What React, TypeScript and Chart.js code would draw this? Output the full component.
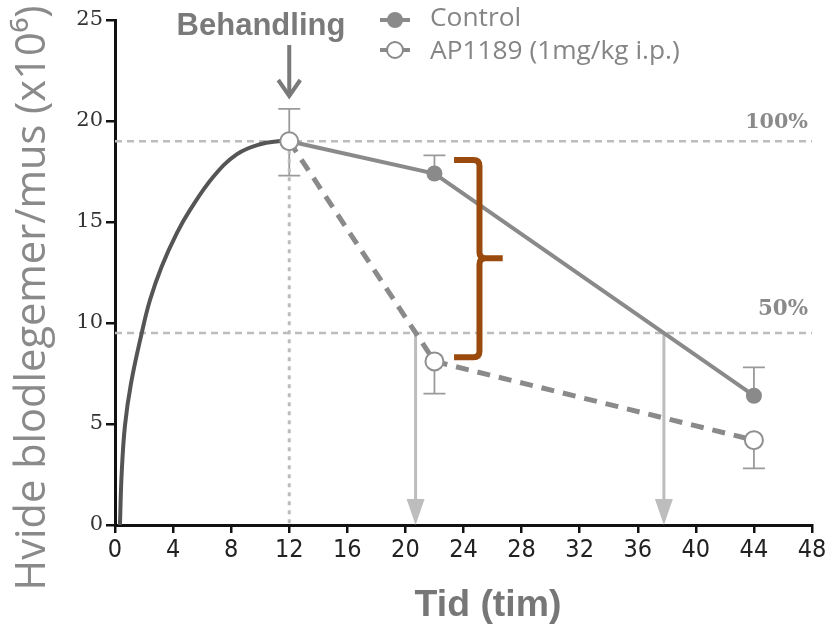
import React, { useEffect, useRef } from "react";
import { Chart, registerables } from "chart.js";
Chart.register(...registerables);

// ---- data ----
const timePoints = [12, 22, 44];
const controlMean = [19, 17.4, 6.4];
const controlErr = [1.6, 0.9, 1.4]; // drawn upward
const apMean = [19, 8.1, 4.2];
const apErr = [1.7, 1.6, 1.4]; // drawn downward
const riseT = [0.34, 0.46, 0.69, 1.1, 1.84, 2.41, 3.21, 4.25, 5.17, 6.77, 8.38, 9.99, 11.5];
const riseY = [0, 2.56, 4.95, 7.0, 9.5, 11.14, 12.79, 14.44, 15.6, 17.24, 18.35, 18.85, 19.02];
const fullLevel = 19; // 100%
const halfLevel = 9.5; // 50%
const treatmentTime = 12;
const apHalfTime = 20.7;
const controlHalfTime = 37.8;
const seriesLabels = ["Control", "AP1189 (1mg/kg i.p.)"];
const levelLabels = ["100%", "50%"];
const yTitle = "Hvide blodlegemer/mus (x10\u2076)";
const xTitle = "Tid (tim)";
const treatmentLabel = "Behandling";

function fitFont(ctx: CanvasRenderingContext2D, text: string, weight: string, family: string, target: number, base: number) {
  ctx.font = `${weight} ${base}px ${family}`;
  const w = ctx.measureText(text).width;
  const size = (base * target) / w;
  return `${weight} ${size.toFixed(1)}px ${family}`;
}

const SANS = "'Open Sans', 'Noto Sans', sans-serif";
const BOLD_SANS = "'Liberation Sans', Arial, sans-serif";

const overlay = {
  id: "overlay",
  beforeDatasetsDraw(chart: any) {
    const { ctx, scales } = chart;
    const x = scales.x, y = scales.y;
    ctx.save();
    ctx.strokeStyle = "#9a9a9a";
    ctx.lineWidth = 1.8;
    const cap = 11;
    const bar = (t: number, v0: number, v1: number) => {
      const px = x.getPixelForValue(t);
      const p0 = y.getPixelForValue(v0), p1 = y.getPixelForValue(v1);
      ctx.beginPath();
      ctx.moveTo(px, p0); ctx.lineTo(px, p1);
      ctx.moveTo(px - cap, p1); ctx.lineTo(px + cap, p1);
      ctx.stroke();
    };
    timePoints.forEach((t, i) => {
      bar(t, controlMean[i], controlMean[i] + controlErr[i]);
      bar(t, apMean[i], apMean[i] - apErr[i]);
    });
    // arrowheads of half-time arrows
    ctx.fillStyle = "#bdbdbd";
    [apHalfTime, controlHalfTime].forEach((t) => {
      const px = x.getPixelForValue(t);
      const py = y.getPixelForValue(0);
      ctx.beginPath();
      ctx.moveTo(px, py);
      ctx.lineTo(px - 9, py - 26);
      ctx.lineTo(px + 9, py - 26);
      ctx.closePath();
      ctx.fill();
    });
    ctx.restore();
  },
  afterDraw(chart: any) {
    const { ctx, scales } = chart;
    const x = scales.x, y = scales.y;
    ctx.save();

    // brace
    const bx0 = x.getPixelForValue(23.35), bx1 = x.getPixelForValue(25.1), bx2 = x.getPixelForValue(26.7);
    const byT = y.getPixelForValue(18.07), byB = y.getPixelForValue(8.3), byM = y.getPixelForValue(13.2);
    ctx.strokeStyle = "#9a4a0c";
    ctx.lineWidth = 6;
    ctx.lineCap = "butt";
    ctx.lineJoin = "round";
    const r = 6;
    ctx.beginPath();
    ctx.moveTo(bx0, byT);
    ctx.lineTo(bx1 - r, byT);
    ctx.quadraticCurveTo(bx1, byT, bx1, byT + r);
    ctx.lineTo(bx1, byM - r);
    ctx.quadraticCurveTo(bx1, byM, bx1 + r, byM);
    ctx.lineTo(bx2, byM);
    ctx.moveTo(bx1 + r, byM);
    ctx.quadraticCurveTo(bx1, byM, bx1, byM + r);
    ctx.lineTo(bx1, byB - r);
    ctx.quadraticCurveTo(bx1, byB, bx1 - r, byB);
    ctx.lineTo(bx0, byB);
    ctx.stroke();

    // level labels
    ctx.fillStyle = "#8a8a8a";
    ctx.textAlign = "right";
    ctx.textBaseline = "alphabetic";
    ctx.font = fitFont(ctx, levelLabels[0], "bold", "'DejaVu Serif', serif", 63, 18);
    ctx.fillText(levelLabels[0], 808, y.getPixelForValue(fullLevel) - 13);
    ctx.font = fitFont(ctx, levelLabels[1], "bold", "'DejaVu Serif', serif", 50, 18);
    ctx.fillText(levelLabels[1], 808, y.getPixelForValue(halfLevel) - 18);

    // treatment label & arrow
    const tx = x.getPixelForValue(treatmentTime);
    ctx.fillStyle = "#7a7a7a";
    ctx.textAlign = "center";
    ctx.textBaseline = "middle";
    ctx.font = fitFont(ctx, treatmentLabel, "bold", BOLD_SANS, 169, 24);
    ctx.fillText(treatmentLabel, 261, 26);
    ctx.strokeStyle = "#7a7a7a";
    ctx.lineWidth = 4;
    ctx.lineCap = "butt";
    ctx.beginPath();
    ctx.moveTo(tx, 45); ctx.lineTo(tx, 95);
    ctx.stroke();
    ctx.lineJoin = "miter";
    ctx.beginPath();
    ctx.moveTo(tx - 11, 80); ctx.lineTo(tx, 96); ctx.lineTo(tx + 11, 80);
    ctx.stroke();

    // legend
    const lx = 395;
    const ly = [20, 50];
    ctx.strokeStyle = "#8a8a8a";
    ctx.lineWidth = 4;
    ctx.beginPath(); ctx.moveTo(lx - 15, ly[0]); ctx.lineTo(lx + 15, ly[0]); ctx.stroke();
    ctx.fillStyle = "#8a8a8a";
    ctx.beginPath(); ctx.arc(lx, ly[0], 8, 0, Math.PI * 2); ctx.fill();
    ctx.beginPath(); ctx.moveTo(lx - 15, ly[1]); ctx.lineTo(lx - 8, ly[1]); ctx.moveTo(lx + 8, ly[1]); ctx.lineTo(lx + 15, ly[1]); ctx.stroke();
    ctx.lineWidth = 2;
    ctx.fillStyle = "#fff";
    ctx.beginPath(); ctx.arc(lx, ly[1], 8, 0, Math.PI * 2); ctx.fill(); ctx.stroke();
    ctx.fillStyle = "#858585";
    ctx.textAlign = "left";
    ctx.textBaseline = "middle";
    const legFont = fitFont(ctx, seriesLabels[1], "normal", SANS, 250, 20);
    ctx.font = legFont;
    ctx.fillText(seriesLabels[0], 430, ly[0] - 1);
    ctx.fillText(seriesLabels[1], 430, ly[1] + 2);

    // axis titles
    ctx.fillStyle = "#8a8a8a";
    ctx.save();
    ctx.translate(33, 298);
    ctx.rotate(-Math.PI / 2);
    ctx.textAlign = "center";
    ctx.textBaseline = "middle";
    ctx.font = fitFont(ctx, yTitle, "normal", SANS, 585, 32);
    ctx.fillText(yTitle, 0, 0);
    ctx.restore();

    ctx.fillStyle = "#777";
    ctx.textAlign = "center";
    ctx.textBaseline = "middle";
    ctx.font = fitFont(ctx, xTitle, "bold", BOLD_SANS, 147, 30);
    ctx.fillText(xTitle, 488, 606);
    ctx.restore();
  },
};

export default function App() {
  const ref = useRef<HTMLCanvasElement | null>(null);
  useEffect(() => {
    document.body.style.margin = "0";
    const xy = (xs: number[], ys: number[]) => xs.map((v, i) => ({ x: v, y: ys[i] }));
    const chart = new Chart(ref.current as HTMLCanvasElement, {
      type: "line",
      data: {
        datasets: [
          {
            label: seriesLabels[1],
            data: xy(timePoints, apMean),
            borderColor: "#8a8a8a",
            borderWidth: 5,
            borderDash: [13, 9],
            pointRadius: 9,
            pointBorderWidth: 2,
            pointBorderColor: "#8f8f8f",
            pointBackgroundColor: "#ffffff",
            order: 1,
          },
          {
            label: seriesLabels[0],
            data: xy(timePoints, controlMean),
            borderColor: "#8a8a8a",
            borderWidth: 4,
            pointRadius: 8,
            pointBorderWidth: 0,
            pointBackgroundColor: "#8a8a8a",
            order: 2,
          },
          {
            label: "rise",
            data: xy(riseT, riseY),
            borderColor: "#555555",
            borderWidth: 4,
            pointRadius: 0,
            tension: 0.4,
            order: 3,
          },
          {
            label: "full",
            data: [{ x: 0, y: fullLevel }, { x: 48, y: fullLevel }],
            borderColor: "#bdbdbd",
            borderWidth: 2.5,
            borderDash: [7, 5],
            pointRadius: 0,
            order: 5,
          },
          {
            label: "half",
            data: [{ x: 0, y: halfLevel }, { x: 48, y: halfLevel }],
            borderColor: "#bdbdbd",
            borderWidth: 2.5,
            borderDash: [7, 5],
            pointRadius: 0,
            order: 5,
          },
          {
            label: "treat",
            data: [{ x: treatmentTime, y: fullLevel }, { x: treatmentTime, y: 0 }],
            borderColor: "#bdbdbd",
            borderWidth: 3,
            borderDash: [4, 5],
            pointRadius: 0,
            order: 5,
          },
          {
            label: "apHalf",
            data: [{ x: apHalfTime, y: halfLevel }, { x: apHalfTime, y: 1 }],
            borderColor: "#bdbdbd",
            borderWidth: 3,
            pointRadius: 0,
            order: 4,
          },
          {
            label: "ctrlHalf",
            data: [{ x: controlHalfTime, y: halfLevel }, { x: controlHalfTime, y: 1 }],
            borderColor: "#bdbdbd",
            borderWidth: 3,
            pointRadius: 0,
            order: 4,
          },
        ],
      },
      options: {
        animation: false,
        responsive: false,
        maintainAspectRatio: false,
        layout: { padding: { top: 20, right: 23, left: 0, bottom: 0 } },
        plugins: { legend: { display: false }, tooltip: { enabled: false } },
        scales: {
          x: {
            type: "linear",
            min: 0,
            max: 48,
            ticks: {
              stepSize: 4,
              color: "#222",
              padding: 2,
              font: { family: "'Liberation Sans Narrow', 'DejaVu Sans Condensed', sans-serif", size: 25 },
              maxRotation: 0,
            },
            grid: { drawOnChartArea: false, drawTicks: true, tickLength: 8, color: "#111", lineWidth: 2.5 },
            border: { color: "#111", width: 3 },
            afterFit: (s: any) => { s.height = 106; },
          },
          y: {
            min: 0,
            max: 25,
            ticks: {
              stepSize: 5,
              color: "#333",
              padding: 3,
              font: { family: "'DejaVu Serif', serif", size: 21 },
            },
            grid: { drawOnChartArea: false, drawTicks: true, tickLength: 9, color: "#111", lineWidth: 2.5 },
            border: { color: "#111", width: 3 },
            afterFit: (s: any) => { s.width = 115; },
          },
        },
      },
      plugins: [overlay],
    } as any);
    return () => chart.destroy();
  }, []);
  return (
    <div style={{ position: "absolute", left: 0, top: 0, width: 835, height: 631, background: "#fff" }}>
      <canvas ref={ref} width={835} height={631} style={{ width: 835, height: 631 }} />
    </div>
  );
}
